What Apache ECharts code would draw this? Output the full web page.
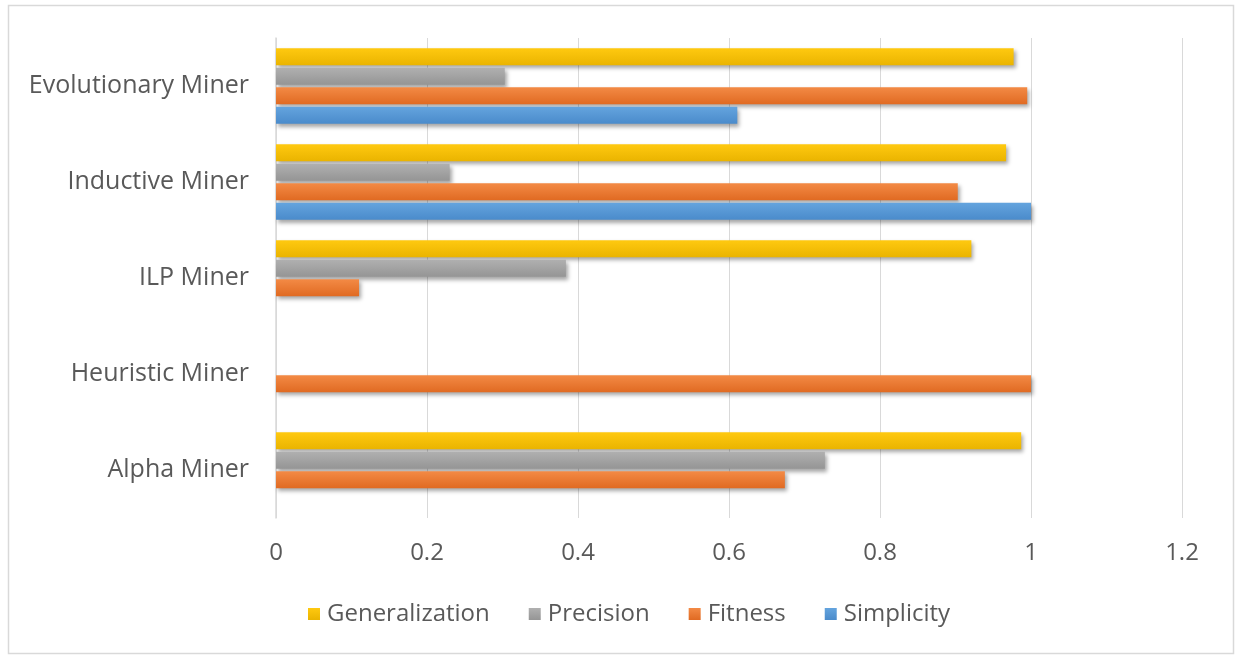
<!DOCTYPE html>
<html>
<head>
<meta charset="utf-8">
<script src="https://cdn.jsdelivr.net/npm/echarts@6/dist/echarts.min.js"></script>
<style>
  html, body { margin: 0; padding: 0; background: #fff; }
  #chart { width: 1235px; height: 655px; }
</style>
</head>
<body>
<div id="chart"></div>
<script>
// Process discovery algorithms and their quality scores
const miners = ['Alpha Miner', 'Heuristic Miner', 'ILP Miner', 'Inductive Miner', 'Evolutionary Miner'];
const generalization = [0.987, 0, 0.921, 0.967, 0.977];
const precision      = [0.727, 0, 0.384, 0.230, 0.303];
const fitness        = [0.674, 1.0, 0.110, 0.903, 0.995];
const simplicity     = [0, 0, 0, 1.0, 0.611];
const xTicks = { min: 0, max: 1.2, interval: 0.2 };

const textColor = '#595959';
const fontFamily = 'Open Sans, Noto Sans, sans-serif';

function shaded(top, bottom) {
  return new echarts.graphic.LinearGradient(0, 0, 0, 1, [
    { offset: 0, color: top },
    { offset: 1, color: bottom }
  ]);
}

function barSeries(name, data, top, bottom) {
  return {
    name: name,
    type: 'bar',
    data: data,
    barWidth: 17,
    barGap: '15%',
    itemStyle: {
      color: shaded(top, bottom),
      shadowColor: 'rgba(0,0,0,0.35)',
      shadowBlur: 4,
      shadowOffsetX: 2,
      shadowOffsetY: 3
    },
    emphasis: { disabled: true }
  };
}

const chart = echarts.init(document.getElementById('chart'), null, { renderer: 'canvas' });
chart.setOption({
  animation: false,
  backgroundColor: '#fff',
  graphic: [{
    type: 'rect',
    shape: { x: 8.5, y: 5.5, width: 1225, height: 648 },
    style: { fill: 'none', stroke: '#d9d9d9', lineWidth: 1.5 },
    silent: true
  }],
  grid: { left: 276, right: 53, top: 38, bottom: 137 },
  legend: {
    top: 597,
    left: 303,
    icon: 'rect',
    itemWidth: 12,
    itemHeight: 12,
    itemGap: 39,
    textStyle: { color: textColor, fontSize: 24, fontFamily: fontFamily, padding: [0, 0, 0, 2] },
    data: ['Generalization', 'Precision', 'Fitness', 'Simplicity']
  },
  xAxis: {
    type: 'value',
    min: xTicks.min,
    max: xTicks.max,
    interval: xTicks.interval,
    axisLine: { show: false },
    axisTick: { show: false },
    splitLine: { lineStyle: { color: '#d9d9d9', width: 1 } },
    axisLabel: {
      color: textColor, fontSize: 24, fontFamily: fontFamily, margin: 23,
      formatter: v => String(Math.round(v * 10) / 10)
    }
  },
  yAxis: {
    type: 'category',
    data: miners,
    axisLine: { show: true, lineStyle: { color: '#d9d9d9', width: 1.5 } },
    axisTick: { show: false },
    axisLabel: { color: textColor, fontSize: 25, fontFamily: fontFamily, margin: 27 }
  },
  series: [
    barSeries('Generalization', generalization, '#ffc910', '#eab400'),
    barSeries('Precision', precision, '#b0b0b0', '#959595'),
    barSeries('Fitness', fitness, '#f38a45', '#e06a22'),
    barSeries('Simplicity', simplicity, '#64a4de', '#4a8bcb')
  ]
});
</script>
</body>
</html>
